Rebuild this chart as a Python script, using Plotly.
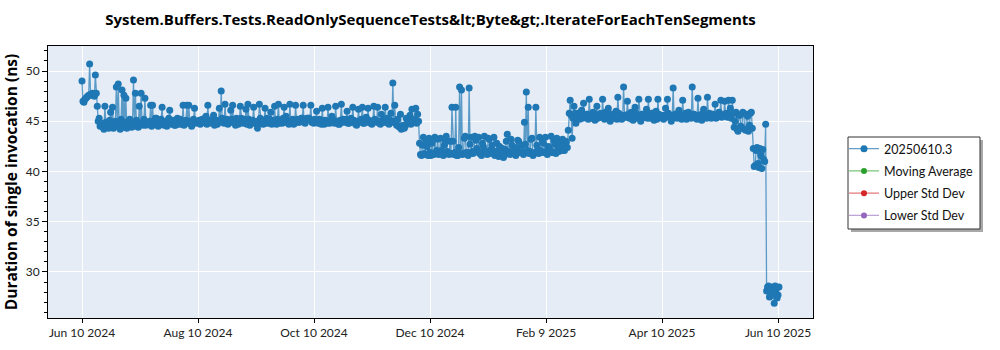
import pandas as pd
import plotly.graph_objects as go

# Benchmark results (ns per invocation): two runs per day from 2024-06-10,
# the first at midnight and the second at noon.
morning_jun_aug_2024 = [
    49.0, 46.9, 47.3, 47.5, 50.7, 47.6, 47.7, 49.6, 46.5, 45.3,
    44.6, 44.4, 46.5, 44.7, 44.3, 45.9, 46.4, 44.5, 48.4, 48.7,
    44.2, 48.1, 47.6, 47.3, 44.6, 45.2, 44.4, 49.1, 47.8, 44.9,
    46.5, 47.8, 44.6, 47.3, 44.9, 44.7, 46.6, 46.6, 44.8, 45.3,
    44.5, 44.9, 46.4, 44.6, 45.0, 44.8, 46.1, 44.7, 44.9, 44.6,
    45.3, 44.8, 44.7, 46.6, 44.9, 46.6, 46.6, 45.0, 44.8, 46.3,
    44.9,
]
morning_aug_oct_2024 = [
    45.0, 44.7, 45.2, 44.9, 45.5, 46.6, 45.1, 44.8, 45.6, 44.9,
    44.7, 46.3, 48.0, 44.9, 46.7, 45.2, 44.8, 46.1, 46.6, 44.9,
    45.3, 44.7, 46.5, 44.9, 45.2, 46.2, 46.7, 44.6, 45.0, 46.4,
    44.8, 44.3, 46.7, 45.0, 44.7, 46.3, 45.3, 44.8, 45.9, 44.9,
    46.5, 44.7, 46.7, 45.1, 44.8, 46.4, 45.5, 44.9, 46.7, 45.0,
    44.7, 46.6, 45.2, 44.9, 45.3, 46.6, 44.8, 45.3, 45.3, 46.6,
]
morning_oct_dec_2024 = [
    44.9, 45.2, 46.0, 44.8, 45.1, 46.3, 44.7, 45.0, 46.4, 44.8,
    45.5, 44.9, 46.5, 45.0, 44.7, 46.7, 45.2, 44.9, 46.0, 44.8,
    45.3, 46.4, 44.9, 44.6, 46.2, 45.0, 46.4, 44.8, 45.4, 46.3,
    44.9, 44.7, 46.5, 45.1, 46.4, 44.8, 45.7, 44.9, 46.4, 45.3,
    44.7, 45.8, 48.8, 46.6, 44.6, 44.5, 45.7, 44.4, 44.3, 45.3,
    44.9, 45.6, 46.2, 45.1, 46.3, 45.7,
]
morning_dec_feb_2025 = [
    42.8, 41.6, 43.4, 41.7, 42.5, 43.3, 41.6, 41.8, 43.4, 42.1,
    41.7, 43.3, 41.9, 42.6, 43.5, 41.8, 43.0, 46.4, 41.7, 46.4,
    41.6, 48.4, 48.1, 41.8, 43.5, 41.9, 48.3, 43.4, 41.8, 43.5,
    42.3, 43.4, 41.9, 42.8, 43.5, 42.0, 43.3, 41.8, 42.6, 43.4,
    42.0, 41.8, 42.5, 41.6, 41.4, 42.2, 43.7, 41.9, 43.2, 42.0,
    41.8, 42.4, 43.0, 41.9, 42.6, 44.9, 47.9, 46.4, 42.0, 43.3,
    41.8, 46.4, 42.1, 43.4, 41.9, 42.8, 43.4, 41.7, 42.3, 43.5,
    41.9, 42.7, 43.3, 42.0, 42.5, 43.2, 42.1, 42.9, 44.1,
]
morning_feb_jun_2025 = [
    47.1, 43.3, 46.5, 44.8, 45.8, 45.2, 46.1, 46.8, 45.4, 45.7,
    47.2, 45.3, 45.9, 45.1, 46.5, 45.4, 45.8, 47.2, 45.2, 45.6,
    46.3, 45.0, 45.7, 45.3, 46.0, 47.4, 45.5, 45.2, 48.4, 45.6,
    47.0, 45.3, 45.9, 45.1, 46.4, 45.5, 47.2, 45.0, 45.7, 45.4,
    46.2, 47.2, 45.3, 45.8, 45.1, 46.0, 47.2, 45.4, 45.6, 45.2,
    46.3, 47.2, 45.5, 45.0, 48.3, 45.7, 45.3, 46.1, 45.4, 47.1,
    45.6, 45.2, 45.9, 45.4, 48.4, 45.7, 45.3, 47.3, 45.6, 45.1,
    46.2, 45.5, 47.4, 45.8, 45.3, 45.7, 46.7, 45.4, 45.9, 47.1,
    45.6, 47.0, 45.8, 47.1, 46.3, 47.1, 44.4, 45.9, 44.0, 45.6,
    44.3, 45.8, 44.1, 45.5, 44.6, 45.9, 42.3, 40.6, 42.4, 40.4,
    41.6, 42.2, 41.0, 28.1, 28.6, 27.6, 28.5, 26.9, 28.3, 27.7,
]

noon_jun_aug_2024 = [
    47.0, 47.2, 47.4, 47.6, 47.7, 47.8, 47.5, 47.8, 45.0, 44.5,
    44.8, 44.2, 44.9, 44.4, 45.1, 44.6, 44.3, 45.0, 44.5, 44.7,
    45.2, 44.4, 44.9, 44.3, 45.0, 44.6, 44.8, 44.5, 45.1, 44.4,
    44.8, 44.7, 45.2, 44.6, 44.9, 45.0, 44.5, 44.8, 45.3, 44.6,
    44.9, 45.2, 44.7, 44.9, 44.5, 45.3, 44.8, 45.1, 44.6, 45.0,
    44.7, 45.2, 44.9, 44.6, 45.1, 44.8, 45.0, 44.5, 45.2, 44.8,
    45.0,
]
noon_aug_oct_2024 = [
    45.1, 44.8, 45.0, 45.3, 44.7, 45.0, 44.9, 45.2, 44.6, 45.1,
    44.9, 45.0, 45.3, 44.8, 45.1, 44.7, 45.0, 45.2, 44.9, 44.6,
    45.1, 44.9, 45.3, 44.8, 45.0, 44.7, 45.2, 44.9, 45.1, 44.8,
    45.0, 44.7, 45.3, 44.9, 45.1, 44.8, 45.0, 45.2, 44.7, 45.1,
    44.9, 45.2, 44.8, 45.0, 45.3, 44.9, 45.1, 44.7, 45.0, 45.2,
    44.8, 45.1, 44.9, 45.0, 45.3, 44.9, 45.2, 45.3, 45.2, 44.9,
]
noon_oct_dec_2024 = [
    44.8, 45.0, 44.9, 45.2, 44.7, 45.0, 45.1, 44.8, 45.0, 44.9,
    45.2, 44.8, 45.0, 44.7, 45.1, 44.9, 45.0, 45.2, 44.8, 45.0,
    44.9, 45.1, 44.7, 45.0, 44.9, 45.2, 44.8, 45.0, 44.9, 45.1,
    44.8, 45.0, 45.2, 44.9, 45.0, 44.7, 45.1, 44.9, 45.0, 44.8,
    45.1, 44.9, 45.0, 44.8, 45.2, 44.4, 44.2, 44.6, 44.5, 44.8,
    45.0, 44.7, 44.9, 45.2, 44.8, 45.0,
]
noon_dec_feb_2025 = [
    41.7, 42.6, 41.8, 43.1, 41.6, 41.9, 42.8, 41.7, 41.9, 43.2,
    41.8, 42.1, 41.6, 42.9, 42.0, 41.7, 41.8, 43.0, 41.9, 41.6,
    42.4, 41.8, 41.7, 43.3, 41.9, 41.6, 42.7, 42.0, 41.9, 43.1,
    42.1, 41.8, 41.6, 42.5, 42.0, 41.7, 43.2, 42.2, 41.9, 41.6,
    42.8, 41.5, 41.7, 42.3, 41.6, 43.0, 42.0, 41.7, 42.6, 42.1,
    41.6, 43.1, 41.9, 42.0, 41.7, 42.7, 42.1, 41.8, 43.2, 41.6,
    41.9, 42.6, 41.8, 42.1, 43.0, 41.9, 42.0, 42.5, 42.1, 41.9,
    43.1, 41.8, 42.2, 42.8, 42.1, 42.3, 43.0, 42.4, 45.8,
]
noon_feb_jun_2025 = [
    45.6, 45.3, 45.8, 45.4, 45.6, 45.9, 45.3, 45.5, 45.7, 45.2,
    45.6, 45.4, 45.8, 45.5, 45.3, 45.7, 45.4, 45.6, 45.9, 45.3,
    45.5, 45.7, 45.4, 45.6, 45.2, 45.8, 45.5, 45.3, 45.6, 45.4,
    45.7, 45.5, 45.2, 45.6, 45.8, 45.3, 45.5, 45.7, 45.4, 45.6,
    45.3, 45.5, 45.8, 45.4, 45.6, 45.2, 45.7, 45.5, 45.3, 45.6,
    45.4, 45.8, 45.6, 45.3, 45.5, 45.7, 45.4, 45.6, 45.2, 45.5,
    45.8, 45.4, 45.6, 45.3, 45.7, 45.5, 45.2, 45.6, 45.4, 45.8,
    45.5, 45.3, 45.6, 45.4, 45.7, 45.5, 45.3, 45.6, 45.8, 45.4,
    45.5, 45.7, 45.4, 45.6, 45.3, 45.8, 45.0, 44.2, 45.6, 44.5,
    45.9, 44.2, 45.7, 44.0, 45.8, 44.3, 40.5, 42.1, 40.8, 42.3,
    40.3, 41.2, 44.7, 28.5, 27.5, 28.4, 27.9, 28.6, 27.4, 28.5,
]

morning_runs = (morning_jun_aug_2024 + morning_aug_oct_2024 + morning_oct_dec_2024
                + morning_dec_feb_2025 + morning_feb_jun_2025)
noon_runs = (noon_jun_aug_2024 + noon_aug_oct_2024 + noon_oct_dec_2024
             + noon_dec_feb_2025 + noon_feb_jun_2025)

run_days = pd.date_range("2024-06-10", periods=len(morning_runs), freq="D")
runs = pd.concat([
    pd.DataFrame({"time": run_days, "ns": morning_runs}),
    pd.DataFrame({"time": run_days + pd.Timedelta(hours=12), "ns": noon_runs}),
]).sort_values("time")

series_name = "20250610.3"
overlay_names = ["Moving Average", "Upper Std Dev", "Lower Std Dev"]
overlay_colors = ["#2ca02c", "#d62728", "#9467bd"]
overlay_line_colors = ["rgba(44,160,44,0.6)", "rgba(214,39,40,0.6)", "rgba(148,103,189,0.6)"]

tick_positions = [
    "2024-06-10 00:00", "2024-08-09 20:00", "2024-10-09 16:00", "2024-12-09 12:00",
    "2025-02-08 08:00", "2025-04-10 04:00", "2025-06-10 00:00",
]
tick_labels = ["Jun 10 2024", "Aug 10 2024", "Oct 10 2024", "Dec 10 2024",
               "Feb 9 2025", "Apr 10 2025", "Jun 10 2025"]

FONT = "Lato"
TITLE_FONT = "Open Sans"

# plot area in pixels, used to place the legend frame in paper coordinates
PLOT_L, PLOT_R, PLOT_T, PLOT_B = 48, 813, 46, 318


def px_x(px):
    return (px - PLOT_L) / (PLOT_R - PLOT_L)


def px_y(py):
    return (PLOT_B - py) / (PLOT_B - PLOT_T)


fig = go.Figure()
fig.add_trace(go.Scatter(
    x=runs["time"], y=runs["ns"], name=series_name, mode="lines+markers",
    line=dict(color="rgba(31,119,180,0.7)", width=1.3),
    marker=dict(color="#1f77b4", size=7),
    legendgroup="a",
))
for i, (name, mc, lc) in enumerate(zip(overlay_names, overlay_colors, overlay_line_colors)):
    fig.add_trace(go.Scatter(
        x=[None], y=[None], name=name, mode="lines+markers",
        line=dict(color=lc, width=1.3), marker=dict(color=mc, size=6),
        legendgroup=f"g{i}",
    ))

# legend frame with a drop shadow
fig.add_shape(type="rect", xref="paper", yref="paper",
              x0=px_x(851), x1=px_x(983), y0=px_y(232), y1=px_y(140),
              fillcolor="#a8a8a8", line_width=0, layer="above")
fig.add_shape(type="rect", xref="paper", yref="paper",
              x0=px_x(848), x1=px_x(980), y0=px_y(229), y1=px_y(137),
              fillcolor="white", line=dict(color="#333", width=1), layer="above")

fig.update_layout(
    width=1000, height=350,
    margin=dict(l=PLOT_L, r=1000 - PLOT_R, t=PLOT_T, b=350 - PLOT_B),
    paper_bgcolor="white", plot_bgcolor="#e5ecf6",
    font=dict(family=FONT, size=12, color="#222"),
    title=dict(
        text="System.Buffers.Tests.ReadOnlySequenceTests&amp;lt;Byte&amp;gt;.IterateForEachTenSegments",
        x=0.5, xref="paper", xanchor="center", y=0.945, yanchor="middle",
        font=dict(family=TITLE_FONT, size=15, color="black", weight="bold"),
    ),
    showlegend=True,
    legend=dict(
        x=px_x(844), y=px_y(134), xanchor="left", yanchor="top",
        bgcolor="rgba(0,0,0,0)", borderwidth=0, tracegroupgap=3,
        font=dict(family=FONT, size=12.5, color="#111"),
    ),
)
fig.update_xaxes(
    type="date", range=["2024-05-23 04:00", "2025-06-28 08:00"],
    tickvals=tick_positions, ticktext=tick_labels,
    showgrid=True, gridcolor="white", gridwidth=1,
    showline=True, linecolor="black", linewidth=1, mirror=True,
    ticks="outside", ticklen=4, tickcolor="black",
    tickfont=dict(family=FONT, size=12, color="#222"),
    zeroline=False, automargin=False,
)
fig.update_yaxes(
    range=[25.42, 52.49], tickvals=[30, 35, 40, 45, 50],
    showgrid=True, gridcolor="white", gridwidth=1,
    showline=True, linecolor="black", linewidth=1, mirror=True,
    ticks="outside", ticklen=5, tickcolor="black",
    minor=dict(ticks="outside", dtick=1, ticklen=3, tickcolor="black", showgrid=False),
    tickfont=dict(family=FONT, size=12, color="#222"),
    title=dict(text="Duration of single invocation (ns)",
               font=dict(family=TITLE_FONT, size=15.5, color="black", weight="bold"), standoff=6),
    zeroline=False, automargin=False,
)

fig.write_html("out.html")
